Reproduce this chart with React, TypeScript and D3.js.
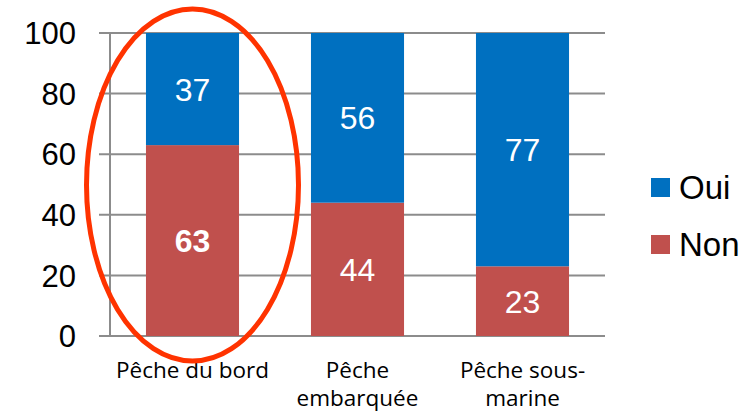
import React from 'react';
import * as d3 from 'd3';

// Chart data
const categories = ['Pêche du bord', 'Pêche embarquée', 'Pêche sous-marine'];
const categoryLabels = [['Pêche du bord'], ['Pêche', 'embarquée'], ['Pêche sous-', 'marine']];
const nonValues = [63, 44, 23];
const ouiValues = [37, 56, 77];
const yTicks = [0, 20, 40, 60, 80, 100];
const seriesNames = ['Oui', 'Non'];
const seriesColors = ['#0070C0', '#C0504D'];

const App = () => {
  const width = 756;
  const height = 415;

  // Plot area
  const left = 110;
  const right = 605;
  const top = 33;
  const bottom = 336;

  const x = d3.scaleBand().domain(categories).range([left, right]).paddingInner(0.436).paddingOuter(0.218);
  const y = d3.scaleLinear().domain([0, 100]).range([bottom, top]);

  const stack = d3
    .stack<number>()
    .keys(['Non', 'Oui'])
    .value((i, key) => (key === 'Non' ? nonValues[i] : ouiValues[i]));
  const layers = stack(categories.map((_, i) => i));
  const colorOf = (key: string) => seriesColors[seriesNames.indexOf(key)];

  return (
    <svg
      width={width}
      height={height}
      style={{ position: 'absolute', left: 0, top: 0, background: '#fff' }}
    >
      {/* gridlines */}
      {yTicks.map((t) => (
        <line key={t} x1={99} x2={right} y1={y(t)} y2={y(t)} stroke="#8c8c8c" strokeWidth={2} />
      ))}
      <line x1={left} x2={left} y1={top} y2={bottom} stroke="#8c8c8c" strokeWidth={2} />

      {/* y tick labels */}
      {yTicks.map((t) => (
        <text
          key={t}
          x={76}
          y={y(t)}
          dy="0.36em"
          textAnchor="end"
          fontFamily="Liberation Sans, Arial, sans-serif"
          fontSize={31}
          fill="#000"
        >
          {t}
        </text>
      ))}

      {/* bars */}
      {layers.map((layer) =>
        layer.map((d, i) => (
          <rect
            key={layer.key + i}
            x={x(categories[i])}
            y={y(d[1])}
            width={x.bandwidth()}
            height={y(d[0]) - y(d[1])}
            fill={colorOf(layer.key)}
          />
        ))
      )}

      {/* value labels */}
      {layers.map((layer) =>
        layer.map((d, i) => (
          <text
            key={'v' + layer.key + i}
            x={(x(categories[i]) as number) + x.bandwidth() / 2}
            y={(y(d[0]) + y(d[1])) / 2}
            dy="0.36em"
            textAnchor="middle"
            fontFamily="Liberation Sans, Arial, sans-serif"
            fontSize={32}
            fontWeight={layer.key === 'Non' && i === 0 ? 'bold' : 'normal'}
            fill="#fff"
          >
            {d[1] - d[0]}
          </text>
        ))
      )}

      {/* category labels */}
      {categoryLabels.map((lines, i) => (
        <text
          key={'c' + i}
          x={(x(categories[i]) as number) + x.bandwidth() / 2}
          y={378}
          textAnchor="middle"
          fontFamily="Open Sans, sans-serif"
          fontSize={22.5}
          fill="#000"
        >
          {lines.map((l, j) => (
            <tspan key={j} x={(x(categories[i]) as number) + x.bandwidth() / 2} dy={j === 0 ? 0 : 28}>
              {l}
            </tspan>
          ))}
        </text>
      ))}

      {/* highlight ellipse */}
      <ellipse
        cx={(x(categories[0]) as number) + x.bandwidth() / 2}
        cy={185}
        rx={106}
        ry={176}
        fill="none"
        stroke="#ff3300"
        strokeWidth={5}
      />

      {/* legend */}
      {seriesNames.map((name, i) => (
        <g key={name} transform={`translate(651, ${178 + i * 57})`}>
          <rect width={19} height={19} fill={seriesColors[i]} />
          <text
            x={28}
            y={9.5}
            dy="0.36em"
            fontFamily="Liberation Sans, Arial, sans-serif"
            fontSize={33}
            fill="#000"
          >
            {name}
          </text>
        </g>
      ))}
    </svg>
  );
};

export default App;
